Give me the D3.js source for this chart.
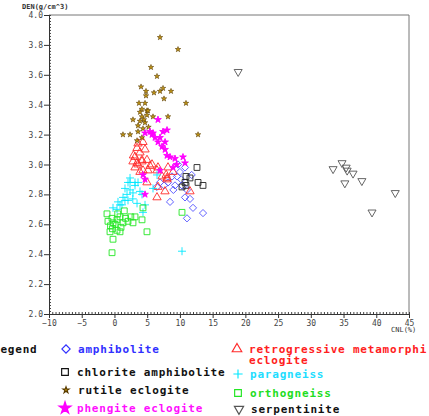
<!DOCTYPE html>
<html>
<head>
<meta charset="utf-8">
<script src="https://cdn.jsdelivr.net/npm/d3@7"></script>
<style>
  body { margin: 0; background: #fff; }
  svg { display: block; }
  .tick text { font-family: "DejaVu Sans Mono", monospace; font-size: 8px; fill: #444; }
  .legend text { font-family: "DejaVu Sans Mono", monospace; font-weight: bold; font-size: 11px; letter-spacing: 0.8px; }
</style>
</head>
<body>
<svg id="chart" width="429" height="416"></svg>
<script>
// values, [CNL %, DEN g/cm^3]
let amphibolite = [[9.71,3.0],[10.78,2.98],[8.18,2.88],[8.79,2.92],[9.56,2.92],[9.25,2.86],[10.32,2.86],[11.08,2.83],[10.78,2.78],[8.49,2.75],[12.0,2.71],[13.53,2.675],[11.08,2.64],[6.96,2.88],[6.5,2.85],[11.54,2.77],[10.2,2.9],[9.0,2.83],[7.6,2.86],[10.0,2.95],[11.8,2.93]];
let chloriteAmphibolite = [[12.61,2.98],[10.93,2.92],[11.54,2.91],[12.77,2.88],[13.53,2.86],[10.32,2.85],[10.93,2.86],[10.78,2.88]];
let rutileEclogite = [[6.96,3.85],[9.71,3.77],[5.58,3.65],[6.5,3.59],[4.06,3.52],[4.82,3.49],[4.82,3.46],[6.04,3.48],[6.96,3.49],[7.42,3.51],[7.57,3.44],[8.64,3.49],[10.93,3.41],[3.75,3.41],[4.67,3.41],[4.97,3.36],[4.2,3.37],[5.13,3.36],[3.9,3.35],[2.83,3.3],[4.2,3.32],[4.97,3.33],[5.89,3.32],[8.18,3.32],[3.6,3.26],[4.67,3.28],[1.3,3.2],[2.38,3.2],[12.77,3.2],[3.6,3.22],[4.2,3.18],[3.45,3.16],[4.36,3.24],[5.2,3.25],[3.9,3.29],[4.5,3.3]];
let phengiteEclogite = [[6.65,3.3],[4.67,3.21],[5.43,3.22],[5.89,3.21],[7.42,3.22],[8.03,3.23],[6.96,3.18],[6.2,3.18],[7.73,3.15],[7.27,3.12],[7.73,3.1],[8.03,3.06],[8.49,3.05],[10.47,3.05],[10.78,3.01],[8.95,2.98],[6.96,2.96],[4.36,2.93],[4.67,2.9],[6.65,3.15],[5.74,3.2],[9.25,3.04],[9.5,3.0],[4.67,2.8]];
let retroEclogite = [[3.6,3.14],[4.36,3.15],[3.45,3.11],[4.67,3.1],[3.9,3.08],[3.14,3.05],[2.83,3.02],[3.45,3.01],[4.2,3.02],[4.97,3.03],[5.74,3.0],[5.13,2.96],[4.36,2.96],[6.5,2.96],[8.18,2.98],[7.27,2.92],[8.03,2.9],[3.9,2.95],[3.14,2.98],[3.6,3.0],[4.2,3.03],[5.43,2.99],[6.65,2.98],[7.9,2.93],[4.97,2.88],[6.65,2.85],[6.5,2.78],[7.72,2.82],[8.03,2.91],[8.95,2.95],[11.54,2.82],[2.9,3.06]];
let paragneiss = [[2.38,2.88],[3.14,2.88],[1.61,2.84],[2.38,2.83],[2.83,2.81],[1.92,2.8],[1.31,2.78],[2.07,2.76],[0.54,2.75],[1.15,2.73],[3.45,2.74],[4.36,2.68],[5.89,2.84],[4.21,2.8],[-0.22,2.71],[0.39,2.7],[10.32,2.42],[2.38,2.91],[2.07,2.88],[6.5,2.93],[3.6,2.88],[3.14,2.86],[3.9,2.82],[0.85,2.73],[4.67,2.73],[2.8,2.77],[1.6,2.76]];
let orthogneiss = [[-1.14,2.67],[-0.37,2.64],[-0.99,2.62],[-0.22,2.61],[0.39,2.63],[0.85,2.65],[1.31,2.61],[2.07,2.62],[2.83,2.61],[3.14,2.65],[4.36,2.71],[4.21,2.63],[-0.68,2.55],[0.39,2.56],[0.85,2.55],[-0.22,2.5],[-0.37,2.41],[4.97,2.55],[10.32,2.68],[-0.6,2.59],[0.1,2.6],[1.0,2.58],[0.5,2.67],[1.7,2.64],[-0.3,2.57],[2.5,2.65],[1.5,2.69]];
let serpentinite = [[18.9,3.62],[34.77,3.01],[33.4,2.97],[35.4,2.98],[35.55,2.96],[36.45,2.94],[35.2,2.875],[37.8,2.89],[42.9,2.81],[39.35,2.68]];

let xTicks = d3.range(-10, 46, 5);
let yTicks = d3.range(2, 4.01, 0.2);

// marker shapes
let plusPath = "M-4,0H4M0,-4V4";
let shapes = {
  diamond: { path: d3.symbol(d3.symbolSquare, 26)(), rotate: 45, fill: "none", stroke: "#5a5aff" },
  square: { path: d3.symbol(d3.symbolSquare, 34)(), rotate: 0, fill: "none", stroke: "#222" },
  rutile: { path: d3.symbol(d3.symbolStar, 9)(), rotate: 0, fill: "#c89a10", stroke: "#5a3c00" },
  star: { path: d3.symbol(d3.symbolStar, 14)(), rotate: 0, fill: "#ff00ff", stroke: "#ff00ff" },
  triangle: { path: d3.symbol(d3.symbolTriangle, 30)(), rotate: 0, fill: "none", stroke: "#ff2a2a" },
  plus: { path: plusPath, rotate: 0, fill: "none", stroke: "#00e8ff" },
  greenSquare: { path: d3.symbol(d3.symbolSquare, 34)(), rotate: 0, fill: "none", stroke: "#22e622" },
  down: { path: d3.symbol(d3.symbolTriangle, 28)(), rotate: 180, fill: "none", stroke: "#555" }
};

let series = [
  { name: "serpentinite", data: serpentinite, shape: "down", color: "#111" },
  { name: "amphibolite", data: amphibolite, shape: "diamond", color: "#3030ff" },
  { name: "chlorite amphibolite", data: chloriteAmphibolite, shape: "square", color: "#111" },
  { name: "retrogressive metamorphi|eclogite", data: retroEclogite, shape: "triangle", color: "#ff2020" },
  { name: "paragneiss", data: paragneiss, shape: "plus", color: "#22ddff" },
  { name: "orthogneiss", data: orthogneiss, shape: "greenSquare", color: "#22dd22" },
  { name: "rutile eclogite", data: rutileEclogite, shape: "rutile", color: "#111" },
  { name: "phengite eclogite", data: phengiteEclogite, shape: "star", color: "#ff10ff" }
];

let svg = d3.select("#chart");

let x = d3.scaleLinear().domain([-10, 45]).range([49, 409]);
let y = d3.scaleLinear().domain([2, 4]).range([314, 15]);

// frame
svg.append("path")
  .attr("d", `M${x(-10)},${y(4)}H${x(45)}V${y(2)}`)
  .attr("fill", "none")
  .attr("stroke", "#777")
  .attr("stroke-width", 1);

// minor ticks point inward
svg.append("g")
  .attr("transform", `translate(${x(-10)},0)`)
  .call(d3.axisRight(y).tickValues(d3.range(2, 4.001, 0.02)).tickSize(2).tickFormat(""))
  .call(g => g.select(".domain").remove())
  .selectAll("line").attr("stroke", "#444");

svg.append("g")
  .attr("transform", `translate(0,${y(2)})`)
  .call(d3.axisTop(x).tickValues(d3.range(-10, 45.01, 0.5)).tickSize(2).tickFormat(""))
  .call(g => g.select(".domain").remove())
  .selectAll("line").attr("stroke", "#444");

svg.append("g")
  .attr("transform", `translate(${x(-10)},0)`)
  .call(d3.axisLeft(y).tickValues(yTicks).tickSize(5).tickPadding(1).tickFormat(d3.format(".1f")))
  .call(g => g.select(".domain").attr("stroke", "#333"))
  .call(g => g.selectAll("line").attr("stroke", "#333"));

svg.append("g")
  .attr("transform", `translate(0,${y(2)})`)
  .call(d3.axisBottom(x).tickValues(xTicks).tickSize(4).tickPadding(2))
  .call(g => g.select(".domain").attr("stroke", "#333"))
  .call(g => g.selectAll("line").attr("stroke", "#333"));

svg.append("text")
  .attr("x", 22).attr("y", 9)
  .attr("font-family", "DejaVu Sans Mono, monospace")
  .attr("font-size", 7).attr("font-weight", "bold").attr("fill", "#333")
  .text("DEN(g/cm^3)");

svg.append("text")
  .attr("x", 391).attr("y", 332)
  .attr("font-family", "DejaVu Sans Mono, monospace")
  .attr("font-size", 7).attr("fill", "#333")
  .text("CNL(%)");

// points
series.forEach(s => {
  let sh = shapes[s.shape];
  svg.append("g")
    .selectAll("path")
    .data(s.data)
    .enter()
    .append("path")
    .attr("d", sh.path)
    .attr("transform", d => `translate(${x(d[0])},${y(d[1])}) rotate(${sh.rotate})`)
    .attr("fill", sh.fill)
    .attr("stroke", sh.stroke)
    .attr("stroke-width", s.shape === "rutile" ? 0.6 : 0.9);
});

// legend
let legendPos = {
  "amphibolite": [66, 349],
  "chlorite amphibolite": [65, 372],
  "rutile eclogite": [66, 390],
  "phengite eclogite": [65, 408],
  "retrogressive metamorphi|eclogite": [237, 349],
  "paragneiss": [238, 374],
  "orthogneiss": [238, 393],
  "serpentinite": [239, 409]
};

let legend = svg.append("g").classed("legend", true);

legend.append("text")
  .attr("x", -7).attr("y", 353)
  .attr("fill", "#111")
  .text("Legend");

series.forEach(s => {
  let p = legendPos[s.name];
  let sh = shapes[s.shape];
  let k = s.shape === "star" ? 1.6 : 1.15;
  legend.append("path")
    .attr("d", sh.path)
    .attr("transform", `translate(${p[0]},${p[1]}) rotate(${sh.rotate}) scale(${k})`)
    .attr("fill", sh.fill)
    .attr("stroke", s.shape === "diamond" ? "#3030ff" : s.shape === "square" ? "#111" : sh.stroke)
    .attr("stroke-width", 1);
  let lines = s.name.split("|");
  lines.forEach((l, i) => {
    legend.append("text")
      .attr("x", p[0] + 12)
      .attr("y", p[1] + 4 + i * 11)
      .attr("fill", s.color)
      .text(l);
  });
});
</script>
</body>
</html>
